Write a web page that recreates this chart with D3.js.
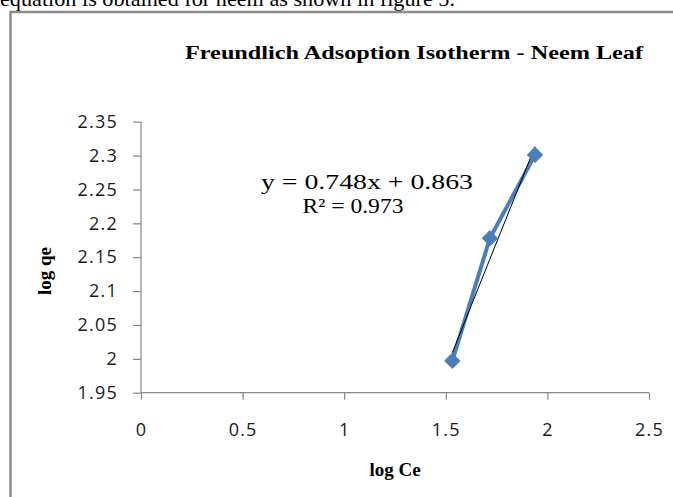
<!DOCTYPE html>
<html>
<head>
<meta charset="utf-8">
<script src="https://cdn.jsdelivr.net/npm/d3@7"></script>
<style>
  body { margin: 0; background: #fff; }
  svg { display: block; }
</style>
</head>
<body>
<div id="viz"></div>
<script>
// data
var logCe = [1.532, 1.717, 1.939];
var logQe = [1.997, 2.178, 2.301];
var slope = 0.748, intercept = 0.863;
var xTicks = [0, 0.5, 1, 1.5, 2, 2.5];
var yTicks = [1.95, 2, 2.05, 2.1, 2.15, 2.2, 2.25, 2.3, 2.35];
var title = "Freundlich Adsoption Isotherm - Neem Leaf";
var xLabel = "log Ce", yLabel = "log qe";

var width = 673, height = 497;
var margin = {top: 121.7, right: 24, bottom: 104.3, left: 141};

var svg = d3.select("#viz")
  .append("svg")
  .attr("width", width)
  .attr("height", height);

// cut-off line of page text above the figure
svg.append("text")
  .attr("x", 0)
  .attr("y", 6)
  .attr("font-family", "Liberation Serif, serif")
  .attr("font-size", 21)
  .attr("textLength", 455)
  .attr("lengthAdjust", "spacingAndGlyphs")
  .text("equation is obtained for neem as shown in figure 5.");

// figure frame
svg.append("path")
  .attr("d", "M10.5," + height + "V12H" + width)
  .attr("fill", "none")
  .attr("stroke", "#8c8c8c")
  .attr("stroke-width", 2.5);

var x = d3.scaleLinear().domain([0, 2.5]).range([margin.left, width - margin.right]);
var y = d3.scaleLinear().domain([1.95, 2.35]).range([height - margin.bottom, margin.top]);

// axes
var xAxis = svg.append("g")
  .attr("transform", "translate(0," + y(1.95) + ")")
  .call(d3.axisBottom(x).tickValues(xTicks).tickSize(7).tickPadding(24).tickFormat(d3.format("")));
var yAxis = svg.append("g")
  .attr("transform", "translate(" + x(0) + ",0)")
  .call(d3.axisLeft(y).tickValues(yTicks).tickSize(8).tickPadding(15).tickFormat(d3.format("")));

[xAxis, yAxis].forEach(function(a) {
  a.select(".domain").attr("stroke", "#868686").attr("stroke-width", 1.2);
  a.selectAll(".tick line").attr("stroke", "#868686").attr("stroke-width", 1.2);
  a.selectAll(".tick text")
    .attr("fill", "#1a1a1a")
    .attr("font-family", "Open Sans, sans-serif")
    .attr("font-size", 18)
    .attr("letter-spacing", 1.2);
});
xAxis.select(".domain").attr("d", "M" + x(0) + ",0H" + x(2.5));
yAxis.select(".domain").attr("d", "M0," + y(1.95) + "V" + y(2.35));

// title
svg.append("text")
  .attr("x", 185)
  .attr("y", 59)
  .attr("font-family", "Liberation Serif, serif")
  .attr("font-weight", "bold")
  .attr("font-size", 19)
  .attr("textLength", 458)
  .attr("lengthAdjust", "spacingAndGlyphs")
  .text(title);

// axis titles
svg.append("text")
  .attr("x", 395)
  .attr("y", 476)
  .attr("text-anchor", "middle")
  .attr("font-family", "Liberation Serif, serif")
  .attr("font-weight", "bold")
  .attr("font-size", 19)
  .text(xLabel);
svg.append("text")
  .attr("transform", "translate(51,271) rotate(-90)")
  .attr("text-anchor", "middle")
  .attr("font-family", "Liberation Serif, serif")
  .attr("font-weight", "bold")
  .attr("font-size", 19)
  .text(yLabel);

// data series
var points = logCe.map(function(d, i) { return [d, logQe[i]]; });
svg.append("path")
  .datum(points)
  .attr("fill", "none")
  .attr("stroke", "#4a7ebb")
  .attr("stroke-width", 4)
  .attr("stroke-linejoin", "round")
  .attr("d", d3.line().x(function(d) { return x(d[0]); }).y(function(d) { return y(d[1]); }));

// linear trendline
var xr = d3.extent(logCe);
svg.append("line")
  .attr("x1", x(xr[0])).attr("y1", y(slope * xr[0] + intercept))
  .attr("x2", x(xr[1])).attr("y2", y(slope * xr[1] + intercept))
  .attr("stroke", "#000")
  .attr("stroke-width", 1);

svg.selectAll("path.marker")
  .data(points)
  .enter()
  .append("path")
  .attr("class", "marker")
  .attr("transform", function(d) { return "translate(" + x(d[0]) + "," + y(d[1]) + ")"; })
  .attr("d", d3.symbol().type(d3.symbolDiamond2).size(150))
  .attr("fill", "#4a7ebb")
  .attr("stroke", "#4a7ebb")
  .attr("stroke-width", 1);

// trendline equation
var eq = svg.append("g")
  .attr("font-family", "Liberation Serif, serif")
  .attr("font-size", 22)
  .attr("text-anchor", "middle");
eq.append("text")
  .attr("x", 367)
  .attr("y", 189)
  .attr("textLength", 212)
  .attr("lengthAdjust", "spacingAndGlyphs")
  .text("y = " + slope + "x + " + intercept);
eq.append("text")
  .attr("x", 353)
  .attr("y", 213)
  .attr("textLength", 101)
  .attr("lengthAdjust", "spacingAndGlyphs")
  .text("R² = 0.973");
</script>
</body>
</html>
